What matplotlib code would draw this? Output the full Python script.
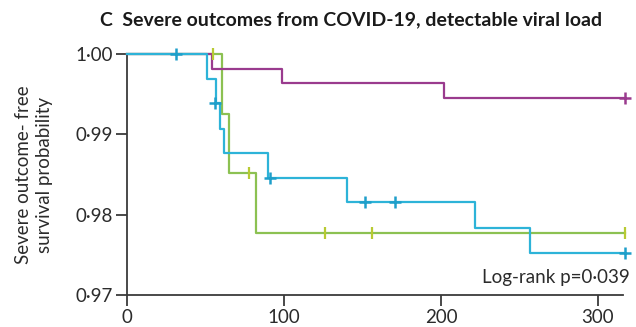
import matplotlib
matplotlib.use("Agg")
import matplotlib.pyplot as plt

# ---- data ----
purple_t = [0, 54, 99, 202, 317]
purple_s = [1.0, 0.99815, 0.99637, 0.99455, 0.99455]
purple_ct = [317]
purple_cs = [0.99455]

blue_t = [0, 51, 57, 59.5, 61.5, 90, 140, 221.7, 256.6, 317]
blue_s = [1.0, 0.99683, 0.99385, 0.99069, 0.98771, 0.98461, 0.98155, 0.97840, 0.97525, 0.97525]
blue_ct = [31.3, 56, 91, 151.4, 170.6, 317]
blue_cs = [1.0, 0.99385, 0.98461, 0.98155, 0.98155, 0.97525]

green_t = [0, 60.5, 65, 82.4, 317]
green_s = [1.0, 0.99248, 0.98515, 0.97770, 0.97770]
green_ct = [55, 78, 126, 156, 317]
green_cs = [1.0, 0.98515, 0.97770, 0.97770, 0.97770]

xticks = [0, 100, 200, 300]
yticks = [0.97, 0.98, 0.99, 1.00]
ytick_labels = ["0·97", "0·98", "0·99", "1·00"]

title = "C  Severe outcomes from COVID-19, detectable viral load"
ylabel = "Severe outcome- free\nsurvival probability"
annot = "Log-rank p=0·039"

# ---- style ----
body_font = ["Lato", "DejaVu Sans"]
title_font = ["Lato", "DejaVu Sans"]
txt = "#2b2b2b"
c_purple = "#9a3b8e"
c_blue = "#2db3d8"
c_blue_m = "#1e9fca"
c_green = "#8cc152"
c_green_m = "#b8ca33"
fs = 13.5

fig = plt.figure(figsize=(6.36, 3.27), dpi=100)
ax = fig.add_axes([0.1997, 0.0969, 0.7799, 0.738])

lw = 1.6
ax.step(purple_t, purple_s, where="post", color=c_purple, lw=lw, zorder=3, clip_on=False)
ax.step(blue_t, blue_s, where="post", color=c_blue, lw=lw, zorder=3, clip_on=False)
ax.step(green_t, green_s, where="post", color=c_green, lw=lw, zorder=2, clip_on=False)

ax.plot(purple_ct, purple_cs, ls="none", marker="+", ms=9, mew=1.8, color=c_purple, zorder=4, clip_on=False)
ax.plot(blue_ct, blue_cs, ls="none", marker="+", ms=9, mew=1.8, color=c_blue_m, zorder=4, clip_on=False)
ax.plot(green_ct, green_cs, ls="none", marker="|", ms=9, mew=1.6, color=c_green_m, zorder=4, clip_on=False)

ax.set_xlim(0, 316)
ax.set_ylim(0.97, 1.00)
ax.set_xticks(xticks)
ax.set_xticklabels([str(v) for v in xticks])
ax.set_yticks(yticks)
ax.set_yticklabels(ytick_labels)

for s in ["top", "right"]:
    ax.spines[s].set_visible(False)
for s in ["left", "bottom"]:
    ax.spines[s].set_color("#3a3a3a")
    ax.spines[s].set_linewidth(1.3)
ax.tick_params(axis="both", direction="out", length=8, width=1.3, color="#3a3a3a",
               labelsize=fs, labelcolor=txt, pad=2)
for lab in ax.get_xticklabels() + ax.get_yticklabels():
    lab.set_family(body_font)

ax.set_ylabel(ylabel, family=body_font, fontsize=fs, color=txt, linespacing=1.3)
ax.yaxis.set_label_coords(-0.149, 0.5)

ax.text(1.013, 0.075, annot, transform=ax.transAxes, ha="right", va="center",
        family=body_font, fontsize=fs, color=txt)

t = fig.text(100 / 636, 1 - 20 / 327, title, ha="left", va="center", family=title_font,
             fontsize=16, fontweight="bold", color="#1a1a1a")
# fit the title to the reference width (~502 px)
fig.canvas.draw()
w = t.get_window_extent().width
t.set_fontsize(16 * 502 / w)

fig.savefig("out.png", dpi=100)
